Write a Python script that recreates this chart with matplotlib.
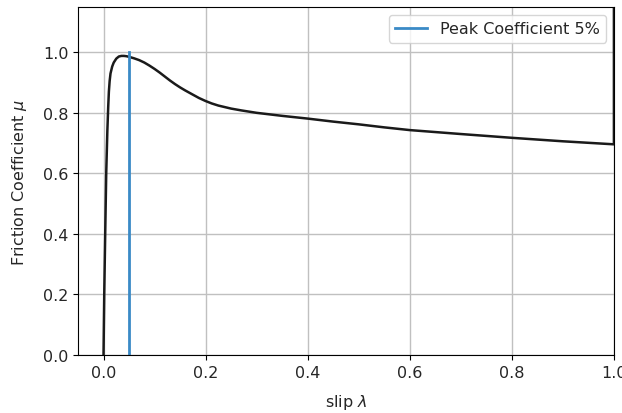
import matplotlib
matplotlib.use("Agg")
import matplotlib.pyplot as plt

# friction curve mu(slip)
slip = [0.0, 0.0014, 0.0033, 0.0053, 0.0075, 0.0092, 0.0105, 0.012, 0.0137, 0.017,
        0.020, 0.025, 0.030, 0.035, 0.040, 0.045, 0.05, 0.06, 0.07, 0.08, 0.09,
        0.10, 0.11, 0.12, 0.13, 0.14, 0.15, 0.16, 0.174, 0.187, 0.2, 0.212, 0.225,
        0.25, 0.27, 0.3, 0.35, 0.4, 0.45, 0.5, 0.55, 0.6, 0.7, 0.8, 0.9, 1.0, 1.0]
mu = [0.0, 0.2, 0.4, 0.6, 0.74, 0.82, 0.87, 0.905, 0.93, 0.953,
      0.966, 0.979, 0.986, 0.988, 0.988, 0.987, 0.985, 0.98, 0.974, 0.966, 0.956,
      0.945, 0.933, 0.92, 0.907, 0.895, 0.884, 0.874, 0.861, 0.849, 0.839, 0.831, 0.824,
      0.814, 0.808, 0.800, 0.790, 0.781, 0.771, 0.762, 0.752, 0.743, 0.73, 0.7175, 0.706, 0.696, 1.3]

peak_slip = [0.05, 0.05]
peak_mu = [0.0, 1.0]
peak_label = "Peak Coefficient 5%"

plt.rcParams["font.size"] = 11.5
plt.rcParams["text.color"] = "#262626"
plt.rcParams["xtick.labelcolor"] = "#262626"
plt.rcParams["ytick.labelcolor"] = "#262626"
plt.rcParams["axes.labelcolor"] = "#262626"

fig = plt.figure(figsize=(6.22, 4.14), dpi=100)
ax = fig.add_axes([0.1254, 0.140, 0.8616, 0.841])
ax.plot(slip, mu, color="#1a1a1a", lw=1.8)
ax.plot(peak_slip, peak_mu, color="#3a8ac6", lw=2, label=peak_label)
ax.set_xlim(-0.05, 1.0)
ax.set_ylim(0, 1.15)
ax.set_yticks([0.0, 0.2, 0.4, 0.6, 0.8, 1.0])
ax.set_xticks([0.0, 0.2, 0.4, 0.6, 0.8, 1.0])
ax.grid(True, color="#c0c0c0", lw=1.0)
ax.set_xlabel(r"slip $\lambda$", labelpad=9)
ax.set_ylabel(r"Friction Coefficient $\mu$", labelpad=10)
ax.legend(loc="upper right")
fig.savefig("out.png", dpi=100)
